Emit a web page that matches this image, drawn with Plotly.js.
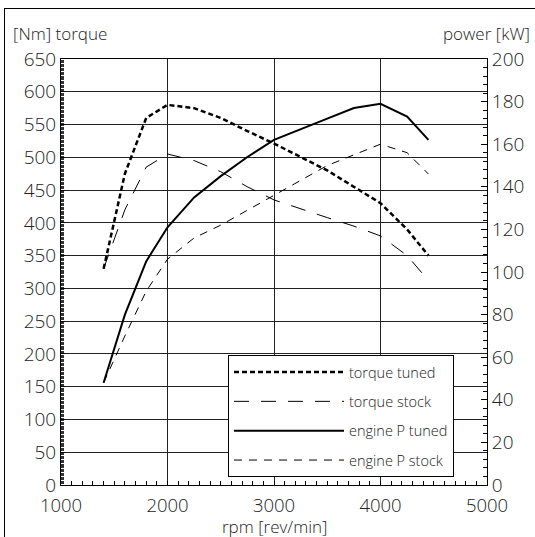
<!DOCTYPE html>
<html>
<head>
<meta charset="utf-8">
<script src="https://cdn.plot.ly/plotly-3.0.1.min.js"></script>
<style>
  html, body { margin: 0; padding: 0; background: #fff; }
  #wrap { position: relative; width: 535px; height: 537px; overflow: hidden; }
  #frame { position: absolute; left: 4px; top: 8px; width: 600px; height: 600px;
           border-left: 1px solid #000; border-top: 1px solid #000; pointer-events: none; z-index: 5; }
  #chart { position: absolute; left: 0; top: 0; width: 535px; height: 537px; }
</style>
</head>
<body>
<div id="wrap">
  <div id="chart"></div>
  <div id="frame"></div>
</div>
<script>
// rpm sample points
const rpm = [1400, 1600, 1800, 2000, 2250, 2500, 2750, 3000, 3500, 3750, 4000, 4250, 4450];
// torque [Nm]
const torqueTuned = [330, 475, 560, 580, 575, 560, 540, 521, 480, 455, 430, 390, 350];
const torqueStock = [330, 420, 485, 505, 495, 478, 455, 435, 408, 395, 380, 350, 312];
// power [kW]
const powerTuned  = [48, 80, 105, 121, 135, 145, 154, 162, 172, 177, 179, 173, 162];
const powerStock  = [48, 70, 91, 106, 116, 122, 129, 136, 150, 155, 160, 156, 146];

const seriesNames = ['torque tuned', 'torque stock', 'engine P tuned', 'engine P stock'];

const FONT = 'Open Sans, Liberation Sans, sans-serif';
const TXT = '#222';
const W = 300;

const traces = [
  {x: rpm, y: torqueTuned, name: seriesNames[0], yaxis: 'y', mode: 'lines', legendgroup: 'a',
   line: {color: '#000', width: 2.5, dash: '5px,3px'}},
  {x: rpm, y: torqueStock, name: seriesNames[1], yaxis: 'y', mode: 'lines', legendgroup: 'b',
   line: {color: '#000', width: 1, dash: '15px,12px'}},
  {x: rpm, y: powerTuned, name: seriesNames[2], yaxis: 'y2', mode: 'lines', legendgroup: 'c',
   line: {color: '#000', width: 2}},
  {x: rpm, y: powerStock, name: seriesNames[3], yaxis: 'y2', mode: 'lines', legendgroup: 'd',
   line: {color: '#000', width: 1, dash: '8px,7px'}}
];

const layout = {
  width: 535, height: 537,
  margin: {l: 61, r: 48, t: 59, b: 52, pad: 0},
  paper_bgcolor: '#fff', plot_bgcolor: '#fff',
  font: {family: FONT, color: TXT, size: 18, weight: W},
  showlegend: true,
  legend: {
    x: 0.392, y: 0.305, xanchor: 'left', yanchor: 'top',
    bgcolor: '#fff', bordercolor: '#000', borderwidth: 1,
    font: {family: FONT, size: 14.5, color: TXT, weight: W},
    itemwidth: 110, tracegroupgap: 7.5, traceorder: 'grouped'
  },
  xaxis: {
    range: [1000, 5000], dtick: 1000, tick0: 1000,
    showgrid: true, gridcolor: '#222', gridwidth: 1,
    showline: true, linecolor: '#000', linewidth: 1, mirror: true,
    ticks: 'inside', ticklen: 4, tickcolor: '#000',
    minor: {dtick: 100, ticks: 'inside', ticklen: 4, tickcolor: '#000', showgrid: false},
    zeroline: false, fixedrange: true, ticklabelstandoff: 4,
    tickfont: {family: FONT, size: 18.5, color: TXT, weight: W}
  },
  yaxis: {
    range: [0, 650], dtick: 50, tick0: 0,
    showgrid: true, gridcolor: '#222', gridwidth: 1,
    showline: true, linecolor: '#000', linewidth: 1,
    ticks: 'inside', ticklen: 4, tickcolor: '#000',
    minor: {dtick: 2, ticks: 'inside', ticklen: 3, tickcolor: '#333', showgrid: false},
    zeroline: false, fixedrange: true,
    tickfont: {family: FONT, size: 19, color: TXT, weight: W}
  },
  yaxis2: {
    range: [0, 200], dtick: 20, tick0: 0,
    overlaying: 'y', side: 'right', anchor: 'x',
    showgrid: false,
    showline: true, linecolor: '#000', linewidth: 1,
    ticks: 'inside', ticklen: 6, tickcolor: '#000',
    minor: {dtick: 4, ticks: 'inside', ticklen: 4, tickcolor: '#000', showgrid: false},
    zeroline: false, fixedrange: true,
    tickfont: {family: FONT, size: 19, color: TXT, weight: W}
  },
  annotations: [
    {text: '[Nm] torque', xref: 'paper', yref: 'paper', x: -0.117, y: 1.059,
     xanchor: 'left', yanchor: 'middle', showarrow: false,
     font: {family: FONT, size: 17, color: TXT, weight: W}},
    {text: 'power [kW]', xref: 'paper', yref: 'paper', x: 1.1056, y: 1.059,
     xanchor: 'right', yanchor: 'middle', showarrow: false,
     font: {family: FONT, size: 17, color: TXT, weight: W}},
    {text: 'rpm [rev/min]', xref: 'paper', yref: 'paper', x: 0.5, y: -0.0965,
     xanchor: 'center', yanchor: 'middle', showarrow: false,
     font: {family: FONT, size: 17, color: TXT, weight: W}}
  ]
};

Plotly.newPlot('chart', traces, layout, {displayModeBar: false, staticPlot: true});
</script>
</body>
</html>
